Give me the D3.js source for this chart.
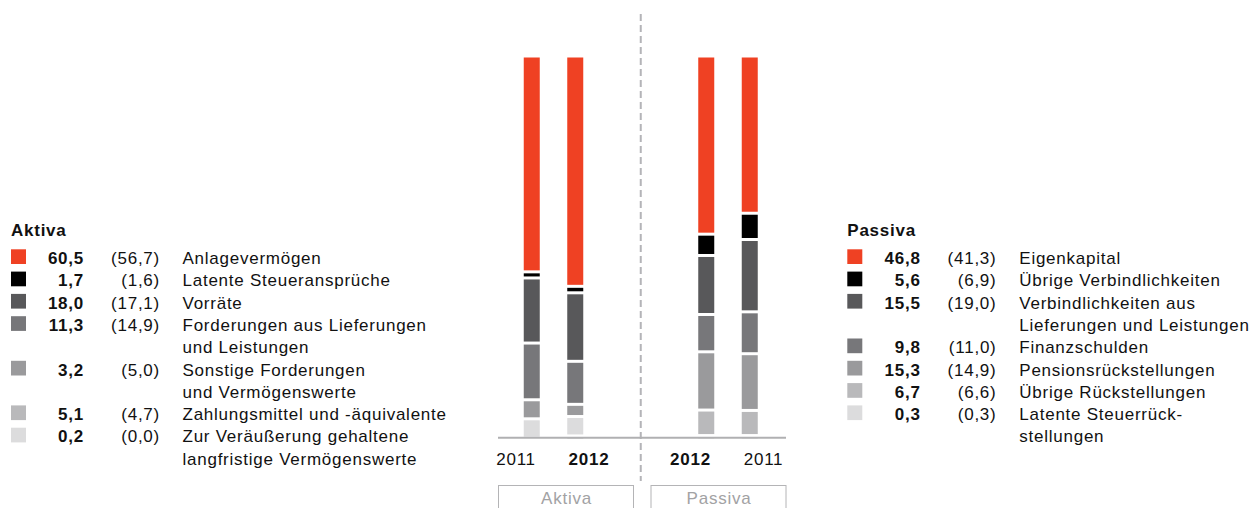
<!DOCTYPE html>
<html><head><meta charset="utf-8">
<script src="https://cdn.jsdelivr.net/npm/d3@7"></script>
<style>
html,body{margin:0;padding:0;background:#fff;}
svg{display:block;font-family:"Liberation Sans",Arial,Helvetica,sans-serif;}
text{letter-spacing:0.75px;}
</style></head>
<body><svg id="chart" width="1251" height="508"></svg>
<script>
// ---------- data ----------
const groups = ["Aktiva", "Passiva"];
const years = ["2011", "2012"];
const currentYear = "2012";
const aktivaLabels = ["Anlagevermögen", "Latente Steueransprüche", "Vorräte",
  ["Forderungen aus Lieferungen", "und Leistungen"],
  ["Sonstige Forderungen", "und Vermögenswerte"],
  "Zahlungsmittel und -äquivalente",
  ["Zur Veräußerung gehaltene", "langfristige Vermögenswerte"]];
const aktiva2012 = [60.5, 1.7, 18.0, 11.3, 3.2, 5.1, 0.2];
const aktiva2011 = [56.7, 1.6, 17.1, 14.9, 5.0, 4.7, 0.0];
const passivaLabels = ["Eigenkapital", "Übrige Verbindlichkeiten",
  ["Verbindlichkeiten aus", "Lieferungen und Leistungen"],
  "Finanzschulden", "Pensionsrückstellungen", "Übrige Rückstellungen",
  ["Latente Steuerrück-", "stellungen"]];
const passiva2012 = [46.8, 5.6, 15.5, 9.8, 15.3, 6.7, 0.3];
const passiva2011 = [41.3, 6.9, 19.0, 11.0, 14.9, 6.6, 0.3];

// ---------- styles ----------
const legendColors = ["#ef4123", "#000000", "#58585a", "#77777a", "#9a9a9c", "#b9b9bb", "#dcdcdd"];
const aktivaBarColors = ["#ef4123", "#000000", "#58585a", "#77777a", "#9a9a9c", "#dcdcdd", "#dcdcdd"];
const passivaBarColors = legendColors;

const svg = d3.select("#chart");
const locale = d3.formatLocale({decimal: ",", thousands: ".", grouping: [3], currency: ["", "€"]});
const fmt = locale.format(".1f");

// ---------- scales ----------
const y = d3.scaleLinear().domain([0, 100]).range([436.7, 56]);
const x0 = d3.scaleBand().domain(groups).range([466.25, 815.25]);
const groupCenter = g => x0(g) + x0.bandwidth() / 2;
const yearOrder = {Aktiva: ["2011", "2012"], Passiva: ["2012", "2011"]};
const barScale = {}, labelScale = {};
groups.forEach(g => {
  barScale[g] = d3.scalePoint().domain(yearOrder[g]).range([-21.75, 21.75]);
  labelScale[g] = d3.scalePoint().domain(yearOrder[g]).range([-37.5, 35.5]);
});
const barW = 16, gap = 3;

const series = {
  Aktiva: {"2011": aktiva2011, "2012": aktiva2012, colors: aktivaBarColors},
  Passiva: {"2011": passiva2011, "2012": passiva2012, colors: passivaBarColors}
};

// ---------- dashed divider ----------
const midX = (groupCenter("Aktiva") + groupCenter("Passiva")) / 2;
svg.append("line").attr("x1", midX).attr("x2", midX).attr("y1", 14).attr("y2", 481)
  .attr("stroke", "#b4b4b8").attr("stroke-width", 2).attr("stroke-dasharray", "7,4");

// ---------- bars ----------
groups.forEach(g => {
  yearOrder[g].forEach(yr => {
    const vals = series[g][yr];
    const cx = groupCenter(g) + barScale[g](yr);
    // stack from bottom: last category at bottom
    let cum = 0;
    const segs = [];
    for (let i = vals.length - 1; i >= 0; i--) {
      segs.push({i, v: vals[i], y0: cum, y1: cum + vals[i]});
      cum += vals[i];
    }
    svg.append("g").selectAll("rect").data(segs).join("rect")
      .attr("x", cx - barW / 2).attr("width", barW)
      .attr("y", d => y(d.y1) + gap / 2)
      .attr("height", d => {
        const raw = y(d.y0) - y(d.y1) - gap + (d.y0 === 0 ? gap / 2 : 0);
        return d.v > 0 ? Math.max(raw, 1.5) : 0;
      })
      .attr("fill", d => series[g].colors[d.i]);
  });
});

// ---------- baseline ----------
svg.append("line").attr("x1", 498).attr("x2", 786).attr("y1", 437.7).attr("y2", 437.7)
  .attr("stroke", "#b0b0b2").attr("stroke-width", 2);

// ---------- year labels ----------
groups.forEach(g => {
  yearOrder[g].forEach(yr => {
    svg.append("text").attr("x", groupCenter(g) + labelScale[g](yr)).attr("y", 465)
      .attr("text-anchor", "middle").attr("font-size", 17)
      .attr("font-weight", yr === currentYear ? "bold" : "normal")
      .attr("fill", "#111").text(yr);
  });
});

// ---------- group boxes ----------
const boxes = [{g: "Aktiva", x1: 498, x2: 634}, {g: "Passiva", x1: 650.5, x2: 786.5}];
boxes.forEach(b => {
  svg.append("rect").attr("x", b.x1 + 0.5).attr("y", 485.5).attr("width", b.x2 - b.x1 - 1).attr("height", 40)
    .attr("fill", "none").attr("stroke", "#b4b4b6").attr("stroke-width", 1);
  svg.append("text").attr("x", (b.x1 + b.x2) / 2 + 0.5).attr("y", 503.5).attr("text-anchor", "middle")
    .attr("font-size", 17).attr("fill", "#a2a2a4").text(b.g);
});

// ---------- legends ----------
function legend(title, labels, cur, prev, colors, pos) {
  const gL = svg.append("g");
  gL.append("text").attr("x", pos.sw).attr("y", 235.7).attr("font-size", 17)
    .attr("font-weight", "bold").attr("fill", "#111").text(title);
  const lh = 22.3;
  let line = 0;
  labels.forEach((lab, i) => {
    const lines = Array.isArray(lab) ? lab : [lab];
    const by = 264 + line * lh;
    gL.append("rect").attr("x", pos.sw).attr("y", by - 14.7).attr("width", 15).attr("height", 14.7)
      .attr("fill", colors[i]);
    gL.append("text").attr("x", pos.v1).attr("y", by).attr("text-anchor", "end")
      .attr("font-size", 17).attr("font-weight", "bold").attr("fill", "#111").text(fmt(cur[i]));
    gL.append("text").attr("x", pos.v2).attr("y", by).attr("text-anchor", "end")
      .attr("font-size", 17).attr("fill", "#111").text("(" + fmt(prev[i]) + ")");
    lines.forEach((t, k) => {
      gL.append("text").attr("x", pos.lab).attr("y", by + k * lh)
        .attr("font-size", 17).attr("fill", "#111").text(t);
    });
    line += lines.length;
  });
}
legend("Aktiva", aktivaLabels, aktiva2012, aktiva2011, legendColors, {sw: 11, v1: 84, v2: 160, lab: 182.5});
legend("Passiva", passivaLabels, passiva2012, passiva2011, legendColors, {sw: 847.3, v1: 920.7, v2: 996.5, lab: 1019.3});
</script>
</body></html>
